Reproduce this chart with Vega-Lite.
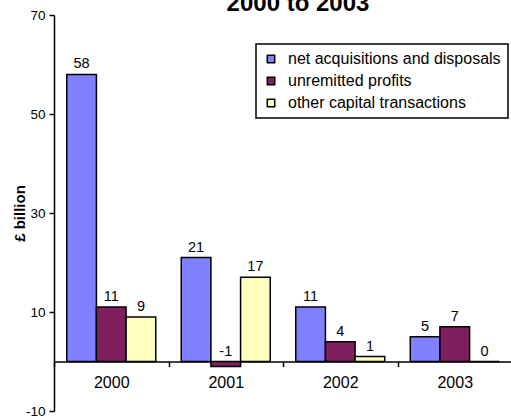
{
  "$schema": "https://vega.github.io/schema/vega-lite/v6.json",
  "autosize": {"type": "none"},
  "padding": {"left": 54, "top": 15, "right": 0, "bottom": 7},
  "width": 458,
  "height": 396,
  "background": "white",
  "config": {"view": {"stroke": null}, "font": "Liberation Sans", "legend": {"strokeWidth": 1.5}},
  "title": {
    "text": "2000 to 2003",
    "font": "Liberation Sans",
    "fontSize": 24,
    "fontWeight": "bold",
    "color": "black",
    "anchor": "middle",
    "frame": "group",
    "baseline": "alphabetic",
    "offset": 0,
    "dx": 15,
    "dy": 27
  },
  "data": {
    "values": [
      {"year": "2000", "series": "net acquisitions and disposals", "value": 58},
      {"year": "2000", "series": "unremitted profits", "value": 11},
      {"year": "2000", "series": "other capital transactions", "value": 9},
      {"year": "2001", "series": "net acquisitions and disposals", "value": 21},
      {"year": "2001", "series": "unremitted profits", "value": -1},
      {"year": "2001", "series": "other capital transactions", "value": 17},
      {"year": "2002", "series": "net acquisitions and disposals", "value": 11},
      {"year": "2002", "series": "unremitted profits", "value": 4},
      {"year": "2002", "series": "other capital transactions", "value": 1},
      {"year": "2003", "series": "net acquisitions and disposals", "value": 5},
      {"year": "2003", "series": "unremitted profits", "value": 7},
      {"year": "2003", "series": "other capital transactions", "value": 0}
    ]
  },
  "transform": [{"calculate": "max(datum.value, 0)", "as": "labelY"}],
  "encoding": {
    "x": {
      "field": "year",
      "type": "nominal",
      "scale": {"paddingInner": 0, "paddingOuter": 0},
      "axis": {
        "title": null,
        "orient": "bottom",
        "offset": -49.5,
        "labelAngle": 0,
        "domainColor": "black",
        "domainWidth": 1.5,
        "tickBand": "extent",
        "tickColor": "black",
        "tickWidth": 1.5,
        "tickSize": 5,
        "labelFont": "Liberation Sans",
        "labelFontSize": 16,
        "labelColor": "black",
        "labelPadding": 8
      }
    },
    "xOffset": {
      "field": "series",
      "type": "nominal",
      "sort": ["net acquisitions and disposals", "unremitted profits", "other capital transactions"],
      "scale": {"paddingInner": 0, "paddingOuter": 0.43}
    }
  },
  "layer": [
    {
      "mark": {"type": "bar", "stroke": "black", "strokeWidth": 1.5},
      "encoding": {
        "y": {
          "field": "value",
          "type": "quantitative",
          "scale": {"domain": [-10, 70], "nice": false, "zero": false},
          "axis": {
            "title": "£ billion",
            "values": [-10, 10, 30, 50, 70],
            "labelExpr": "replace(datum.label, '−', '-')",
            "grid": false,
            "domainColor": "black",
            "domainWidth": 1.5,
            "tickColor": "black",
            "tickWidth": 1.5,
            "tickSize": 5,
            "labelFont": "Liberation Sans",
            "labelFontSize": 13.5,
            "labelColor": "black",
            "labelPadding": 4,
            "titleFont": "Liberation Sans",
            "titleFontSize": 15,
            "titleFontWeight": "bold",
            "titleColor": "black",
            "titlePadding": -2
          }
        },
        "color": {
          "field": "series",
          "type": "nominal",
          "sort": ["net acquisitions and disposals", "unremitted profits", "other capital transactions"],
          "scale": {
            "domain": ["net acquisitions and disposals", "unremitted profits", "other capital transactions"],
            "range": ["#8080FF", "#7F1F5F", "#FFFFC0"]
          },
          "legend": {
            "orient": "none",
            "legendX": 202,
            "legendY": 29,
            "title": null,
            "strokeColor": "black",
            "fillColor": "white",
            "padding": 7,
            "cornerRadius": 0,
            "labelFont": "Liberation Sans",
            "labelFontSize": 16,
            "labelColor": "black",
            "labelLimit": 400,
            "labelOffset": 9,
            "symbolType": "square",
            "symbolSize": 55,
            "symbolStrokeColor": "black",
            "symbolStrokeWidth": 1.5,
            "symbolOpacity": 1,
            "rowPadding": 6
          }
        }
      }
    },
    {
      "mark": {"type": "text", "baseline": "alphabetic", "align": "center", "dy": -6, "font": "Liberation Sans", "fontSize": 14.5, "color": "black"},
      "encoding": {
        "y": {"field": "labelY", "type": "quantitative"},
        "text": {"field": "value", "type": "nominal"}
      }
    }
  ]
}
